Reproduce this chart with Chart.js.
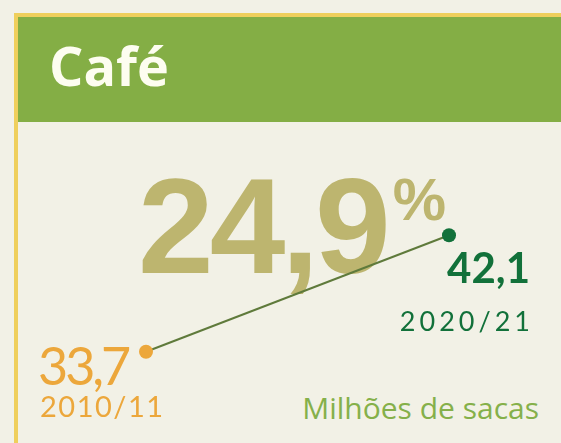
<!DOCTYPE html>
<html>
<head>
<meta charset="utf-8">
<script src="https://cdn.jsdelivr.net/npm/chart.js@4/dist/chart.umd.min.js"></script>
<style>
  body { margin: 0; background: #f2f1e6; width: 561px; height: 443px; overflow: hidden; position: relative; }
  .frame { position: absolute; left: 14px; top: 13px; width: 600px; height: 500px;
           border-left: 4px solid #efcf5c; border-top: 4px solid #efcf5c; box-sizing: border-box; }
  .header { position: absolute; left: 18px; top: 17px; width: 560px; height: 105px; background: #84ae45; }
  .title { position: absolute; left: 49px; top: 38px; color: #fdfdf0; font: bold 54px "Open Sans", sans-serif; line-height: 1; }
  .big { position: absolute; left: 138px; top: 158px; color: #bdb56f; font: bold 136px "Liberation Sans", Arial, sans-serif;
         line-height: 1; letter-spacing: -4px; white-space: nowrap; }
  .big sup { font-size: 60px; position: relative; top: 12px; vertical-align: top; letter-spacing: 0; margin-left: 6px; }
  .unit { position: absolute; right: 22px; top: 393px; color: #85b04a; font: 30px "Open Sans", sans-serif; line-height: 1; white-space: nowrap; }
  canvas { position: absolute; left: 0; top: 0; }
</style>
</head>
<body>
<div class="frame"></div>
<div class="header"></div>
<div class="title">Café</div>
<div class="big">24,9<sup>%</sup></div>
<div class="unit">Milhões de sacas</div>
<canvas id="myChart" width="561" height="443"></canvas>
<script>
// dados
var safras = ["2010/11", "2020/21"];
var producao = [33.7, 42.1];
var valorTexto = ["33,7", "42,1"];
var cores = ["#eca73b", "#12713a"];

// rótulos ao lado de cada ponto
var rotulos = {
  id: 'rotulos',
  afterDatasetsDraw: function(chart) {
    var ctx = chart.ctx;
    var pts = chart.getDatasetMeta(0).data;
    ctx.save();
    pts.forEach(function(p, i) {
      ctx.fillStyle = cores[i];
      if (i == 0) {
        ctx.textAlign = 'left';
        ctx.letterSpacing = '-3px';
        ctx.font = '52px Lato, sans-serif';
        ctx.fillText(valorTexto[i], p.x - 108, p.y + 33);
        ctx.letterSpacing = '1.5px';
        ctx.font = '29px Lato, sans-serif';
        ctx.fillText(safras[i], p.x - 106, p.y + 65);
      } else {
        ctx.textAlign = 'right';
        ctx.letterSpacing = '0px';
        ctx.font = 'bold 42px Lato, sans-serif';
        ctx.fillText(valorTexto[i], p.x + 81, p.y + 48);
        ctx.letterSpacing = '4px';
        ctx.font = '27px Lato, sans-serif';
        ctx.fillText(safras[i], p.x + 85, p.y + 96);
      }
    });
    ctx.restore();
  }
};

var ctx = document.getElementById('myChart').getContext('2d');
var myChart = new Chart(ctx, {
  type: 'line',
  data: {
    labels: safras,
    datasets: [{
      data: producao,
      borderColor: "#5f7a3b",
      borderWidth: 2,
      pointRadius: 7,
      pointBorderWidth: 0,
      pointBackgroundColor: cores,
      pointBorderColor: cores,
      tension: 0,
      clip: false
    }]
  },
  options: {
    responsive: false,
    animation: false,
    events: [],
    layout: { padding: { left: 146, right: 112, top: 195, bottom: 40 } },
    plugins: { legend: { display: false }, tooltip: { enabled: false } },
    scales: {
      x: { display: false, offset: false },
      y: { display: false, min: 30, max: 45 }
    }
  },
  plugins: [rotulos]
});
</script>
</body>
</html>
